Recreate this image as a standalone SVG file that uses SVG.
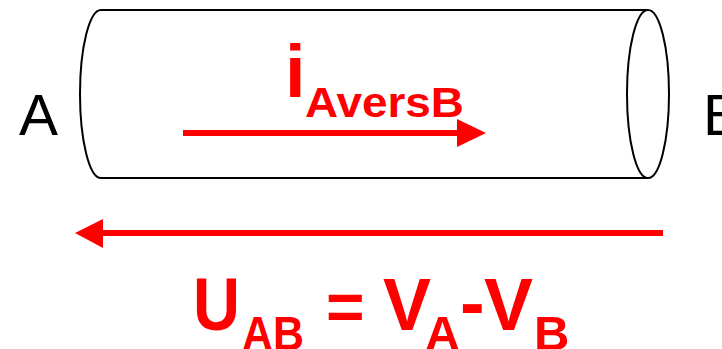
<svg xmlns="http://www.w3.org/2000/svg" width="722" height="349" viewBox="0 0 722 349">
<style>
.lbl{font-family:"Liberation Sans",Arial,sans-serif;fill:#000}
.red{font-family:"Liberation Sans",Arial,sans-serif;font-weight:bold;fill:#ff0000}
.cyl{fill:none;stroke:#000;stroke-width:2}
.arr{stroke:#ff0000;stroke-width:6;fill:none}
.head{fill:#ff0000}
</style>
<rect width="722" height="349" fill="#fff"/>
<g id="cylinder">
<path class="cyl" d="M101,10 A21,84 0 0 0 101,178 L648,178 M101,10 L648,10"/>
<ellipse class="cyl" cx="648" cy="94" rx="21" ry="84"/>
</g>
<g id="labelA"><text class="lbl" x="19" y="135" font-size="58" textLength="39" lengthAdjust="spacingAndGlyphs">A</text></g>
<g id="labelB"><text class="lbl" x="703" y="135" font-size="58">B</text></g>
<g id="current">
<text class="red" x="285" y="97" font-size="74">i</text>
<text class="red" x="305" y="117" font-size="42" textLength="159" lengthAdjust="spacingAndGlyphs">AversB</text>
</g>
<g id="connectors">
<line class="arr" x1="183" y1="133" x2="460" y2="133"/>
<polygon class="head" points="457,119 486,133 457,147"/>
<line class="arr" x1="100" y1="233" x2="663" y2="233"/>
<polygon class="head" points="103,219 75,233 103,248"/>
</g>
<g id="voltage">
<text class="red" x="193" y="330" font-size="74" textLength="47" lengthAdjust="spacingAndGlyphs">U</text>
<text class="red" x="242" y="350" font-size="49" textLength="62" lengthAdjust="spacingAndGlyphs">AB</text>
<text class="red" x="326" y="330" font-size="66">=</text>
<text class="red" x="383" y="330" font-size="74" textLength="48" lengthAdjust="spacingAndGlyphs">V</text>
<text class="red" x="425" y="350" font-size="49" textLength="35" lengthAdjust="spacingAndGlyphs">A</text>
<text class="red" x="460" y="328" font-size="74">-</text>
<text class="red" x="484" y="330" font-size="74" textLength="49" lengthAdjust="spacingAndGlyphs">V</text>
<text class="red" x="534" y="350" font-size="49">B</text>
</g>
</svg>
